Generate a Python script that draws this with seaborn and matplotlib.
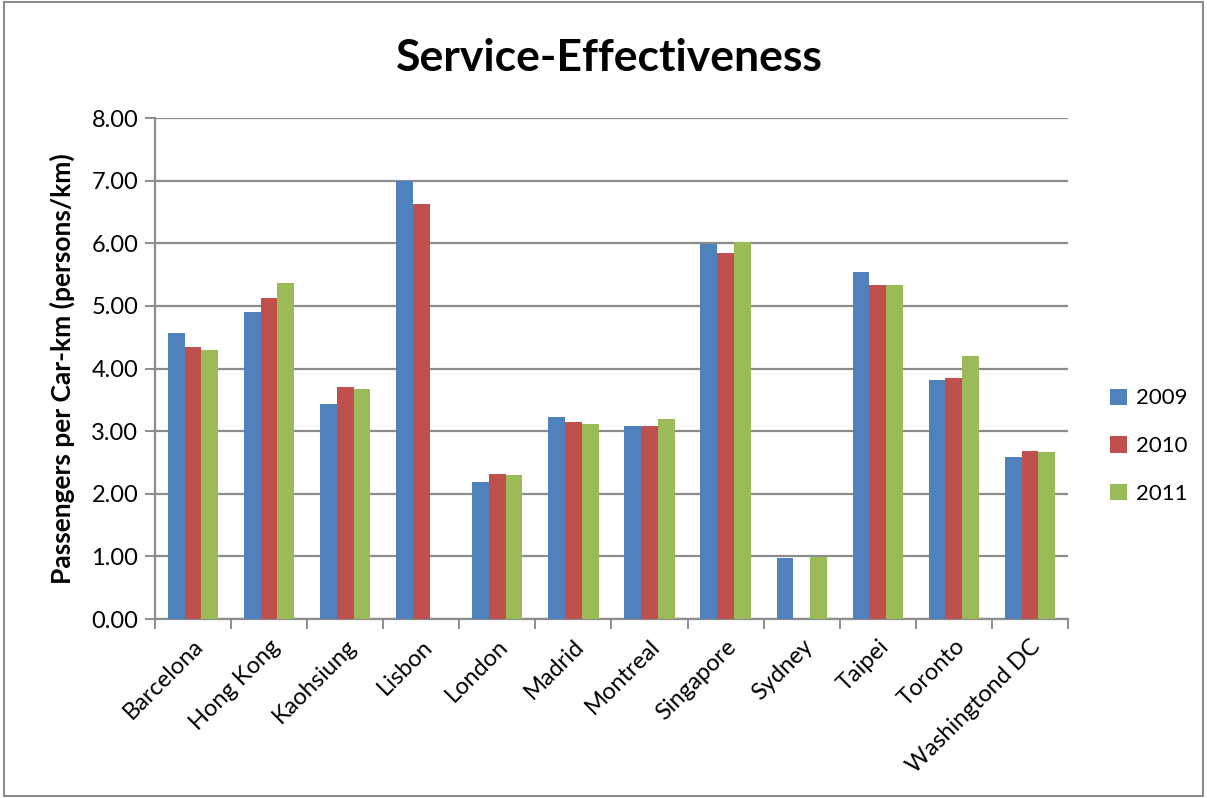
import numpy as np
import pandas as pd
import matplotlib
matplotlib.use("Agg")
import matplotlib.pyplot as plt
from matplotlib.patches import Rectangle
import seaborn as sns

cities = ["Barcelona", "Hong Kong", "Kaohsiung", "Lisbon", "London", "Madrid",
          "Montreal", "Singapore", "Sydney", "Taipei", "Toronto", "Washingtond DC"]
years = ["2009", "2010", "2011"]
v2009 = [4.57, 4.91, 3.44, 6.99, 2.19, 3.23, 3.08, 5.99, 0.98, 5.54, 3.81, 2.58]
v2010 = [4.35, 5.13, 3.71, 6.62, 2.32, 3.15, 3.09, 5.84, np.nan, 5.34, 3.85, 2.69]
v2011 = [4.30, 5.37, 3.67, np.nan, 2.30, 3.11, 3.20, 6.02, 0.99, 5.34, 4.20, 2.67]
colors = ["#4F81BD", "#C0504D", "#9BBB59"]

df = pd.DataFrame({
    "City": cities * 3,
    "Year": [y for y in years for _ in cities],
    "Value": v2009 + v2010 + v2011,
})

sns.set_theme(style="white")
plt.rcParams["font.family"] = ["Lato", "DejaVu Sans"]
plt.rcParams["text.color"] = "black"
plt.rcParams["axes.labelcolor"] = "black"
plt.rcParams["xtick.color"] = "black"
plt.rcParams["ytick.color"] = "black"

fig = plt.figure(figsize=(12.07, 7.98), dpi=100)
ax = fig.add_axes([0.1284, 0.2243, 0.7564, 0.6278])

sns.barplot(data=df, x="City", y="Value", hue="Year", palette=colors,
            width=0.66, gap=0, saturation=1, errorbar=None, linewidth=0,
            ax=ax, zorder=3)

ax.set_ylim(0, 8)
ax.set_xlim(-0.5, len(cities) - 0.5)
ax.set_yticks(np.arange(0, 8.01, 1))
ax.set_yticklabels([f"{t:.2f}" for t in np.arange(0, 8.01, 1)], fontsize=17)
ax.yaxis.grid(True, color="#8c8c8c", linewidth=1.6, zorder=0)
ax.set_axisbelow(True)

# category boundaries carry the tick marks
ax.set_xticks(np.arange(len(cities)))
ax.set_xticklabels(cities, rotation=45, ha="right", rotation_mode="anchor", fontsize=17)
ax.set_xticks(np.arange(-0.5, len(cities)), minor=True)
ax.tick_params(axis="x", which="major", length=0, pad=12)
ax.tick_params(axis="x", which="minor", length=7, color="#8c8c8c", width=1.4,
               direction="out", bottom=True)
ax.tick_params(axis="y", length=7, color="#8c8c8c", labelcolor="black", width=1.4,
               direction="out", left=True, pad=5)
ax.tick_params(axis="x", labelcolor="black")

for side in ["top", "right"]:
    ax.spines[side].set_visible(False)
for side in ["left", "bottom"]:
    ax.spines[side].set_color("#8c8c8c")
    ax.spines[side].set_linewidth(1.6)

ax.set_xlabel("")
ax.set_ylabel("Passengers per Car-km (persons/km)", fontsize=19, fontweight="bold",
              labelpad=12)
fig.text(0.505, 0.927, "Service-Effectiveness", ha="center", va="center",
         fontsize=32, fontweight="bold")

ax.legend(loc="center left", bbox_to_anchor=(1.046, 0.345), frameon=False, fontsize=16,
          borderaxespad=0, borderpad=0,
          handlelength=0.75, handleheight=0.75, handletextpad=0.4, labelspacing=1.25)

fig.patches.append(Rectangle((0.003, 0.003), 0.994, 0.994, transform=fig.transFigure,
                             fill=False, edgecolor="#8c8c8c", linewidth=1.5))

fig.savefig("out.png", dpi=100)
